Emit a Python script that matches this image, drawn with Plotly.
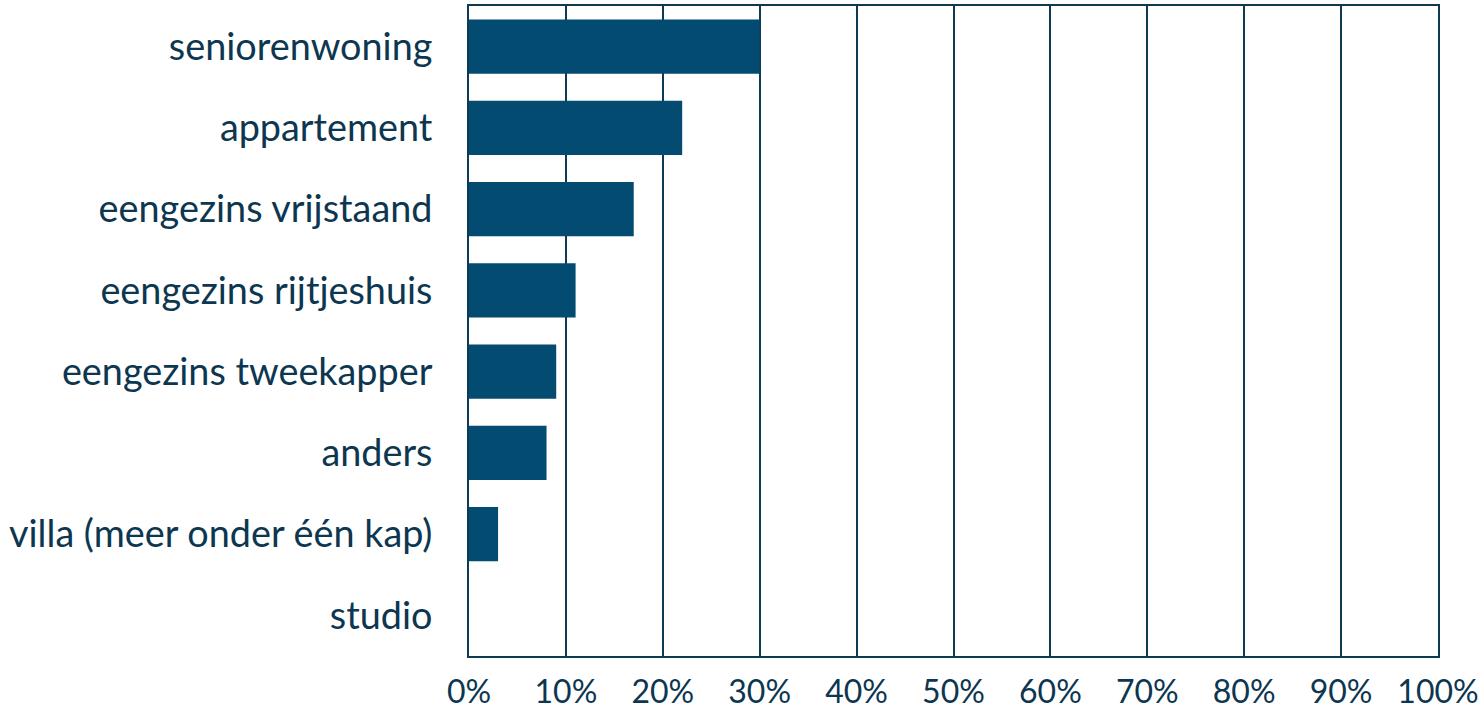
import plotly.graph_objects as go

categories = ["seniorenwoning", "appartement", "eengezins vrijstaand", "eengezins rijtjeshuis",
              "eengezins tweekapper", "anders", "villa (meer onder één kap)", "studio"]
values = [30, 22, 17, 11, 9, 8, 3, 0]
tick_vals = [0, 10, 20, 30, 40, 50, 60, 70, 80, 90, 100]
tick_text = [f"{v}%" for v in tick_vals]

bar_color = "#034b70"
line_color = "#0e3a52"
text_color = "#0d3650"

fig = go.Figure(go.Bar(
    y=categories, x=values, orientation="h",
    marker=dict(color=bar_color, line=dict(width=0)),
))

fig.update_layout(
    width=1484, height=714,
    margin=dict(l=469, r=46, t=6, b=58),
    paper_bgcolor="white", plot_bgcolor="white",
    bargap=0.335,
    font=dict(family="Lato", size=37, color=text_color),
    showlegend=False,
)
fig.update_xaxes(
    range=[0, 100], tickvals=tick_vals, ticktext=tick_text,
    showgrid=True, gridcolor=line_color, gridwidth=1.5,
    showline=True, linecolor=line_color, linewidth=2, mirror=True,
    zeroline=False, ticks="", ticklabelstandoff=7,
    tickfont=dict(size=32), automargin=False,
)
fig.update_yaxes(
    autorange="reversed", showgrid=False,
    showline=True, linecolor=line_color, linewidth=2, mirror=True,
    ticks="", ticklabelstandoff=27,
    tickfont=dict(size=37.8), automargin=False,
)

fig.write_html("out.html", config={"displayModeBar": False},
               post_script="document.body.style.margin='0';")
